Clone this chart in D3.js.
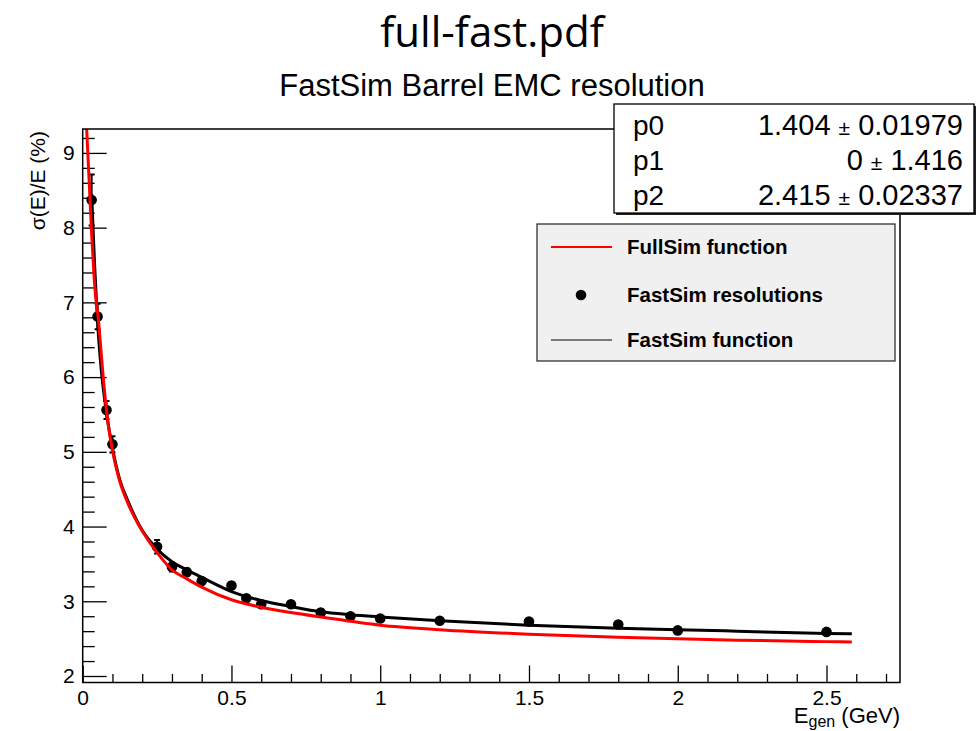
<!DOCTYPE html>
<html>
<head>
<meta charset="utf-8">
<script src="https://cdn.jsdelivr.net/npm/d3@7"></script>
<style>
  body { margin: 0; background: #fff; }
  text { font-family: "Liberation Sans", Arial, sans-serif; }
</style>
</head>
<body>
<svg id="chart" width="978" height="731"></svg>
<script>
// FastSim resolution points
const energies = [0.03, 0.05, 0.08, 0.1, 0.25, 0.3, 0.35, 0.4, 0.5, 0.55, 0.6, 0.7, 0.8, 0.9, 1.0, 1.2, 1.5, 1.8, 2.0, 2.5];
const resolutions = [8.37, 6.81, 5.56, 5.10, 3.73, 3.46, 3.39, 3.27, 3.21, 3.04, 2.96, 2.96, 2.85, 2.80, 2.77, 2.74, 2.73, 2.69, 2.61, 2.59];
const resErrors = [0.34, 0.17, 0.12, 0.11, 0.09, 0.06, 0.05, 0.04, 0.04, 0.04, 0.03, 0.03, 0.03, 0.03, 0.03, 0.03, 0.03, 0.03, 0.03, 0.03];

// curves
const fullE = [0.013, 0.0303, 0.0414, 0.0525, 0.069, 0.08, 0.1, 0.114, 0.125, 0.15, 0.18, 0.2, 0.25, 0.3, 0.35, 0.4, 0.5, 0.6, 0.7, 0.8, 1.0, 1.2, 1.5, 1.8, 2.0, 2.2, 2.5, 2.585];
const fullV = [9.35, 7.90, 7.17, 6.78, 6.0, 5.55, 5.02, 4.76, 4.60, 4.33, 4.08, 3.94, 3.65, 3.42, 3.30, 3.19, 3.02, 2.92, 2.85, 2.79, 2.68, 2.62, 2.56, 2.52, 2.50, 2.48, 2.46, 2.455];
const fastE = [0.03, 0.04, 0.05, 0.06, 0.08, 0.1, 0.125, 0.15, 0.2, 0.25, 0.3, 0.35, 0.4, 0.5, 0.6, 0.7, 0.8, 0.9, 1.0, 1.2, 1.5, 1.8, 2.0, 2.2, 2.5, 2.585];
const fastV = [8.45, 7.50, 6.73, 6.20, 5.52, 5.05, 4.62, 4.36, 3.95, 3.70, 3.53, 3.42, 3.32, 3.13, 3.01, 2.93, 2.86, 2.82, 2.79, 2.74, 2.68, 2.64, 2.62, 2.60, 2.57, 2.565];

const xMajor = [0, 0.5, 1, 1.5, 2, 2.5];
const yMajor = [2, 3, 4, 5, 6, 7, 8, 9];

const fitNames = ["p0", "p1", "p2"];
const fitValues = ["1.404", "0", "2.415"];
const fitErrors = ["0.01979", "1.416", "0.02337"];

const legendLabels = ["FullSim function", "FastSim resolutions", "FastSim function"];

const svg = d3.select("#chart");
const frame = { left: 82.7, right: 900, top: 129, bottom: 682.5 };

const x = d3.scaleLinear().domain([0, 2.747]).range([frame.left, frame.right]);
const y = d3.scaleLinear().domain([1.913, 9.32]).range([frame.bottom, frame.top]);

svg.append("rect").attr("width", 978).attr("height", 731).attr("fill", "#fff");

// titles
svg.append("text").attr("x", 492).attr("y", 47).attr("text-anchor", "middle")
  .style("font-family", "'Open Sans', sans-serif").style("font-size", "42px")
  .text("full-fast.pdf");
svg.append("text").attr("x", 492).attr("y", 96).attr("text-anchor", "middle")
  .style("font-size", "31px").text("FastSim Barrel EMC resolution");

// minor ticks
const xMinor = d3.range(0, 28).map(i => i / 10).filter(v => !xMajor.some(m => Math.abs(m - v) < 1e-6));
const yMinor = d3.range(10, 47).map(i => i / 5).filter(v => v >= 1.913 && !yMajor.some(m => Math.abs(m - v) < 1e-6));

svg.append("g").attr("transform", `translate(0,${frame.bottom})`)
  .call(d3.axisBottom(x).tickValues(xMajor).tickSizeInner(-17).tickSizeOuter(0).tickPadding(8)
    .tickFormat(d => d3.format("")(d)));
svg.append("g").attr("transform", `translate(0,${frame.bottom})`)
  .call(d3.axisBottom(x).tickValues(xMinor).tickSizeInner(-8.5).tickSizeOuter(0).tickFormat(""));

svg.append("g").attr("transform", `translate(${frame.left},0)`)
  .call(d3.axisLeft(y).tickValues(yMajor).tickSizeInner(-24).tickSizeOuter(0).tickPadding(8));
svg.append("g").attr("transform", `translate(${frame.left},0)`)
  .call(d3.axisLeft(y).tickValues(yMinor).tickSizeInner(-12).tickSizeOuter(0).tickFormat(""));

svg.selectAll(".domain").remove();
svg.selectAll(".tick line").attr("stroke", "#000").attr("stroke-width", 1.3);
svg.selectAll(".tick text").style("font-size", "21px").attr("fill", "#000")
  .style("font-family", "'Liberation Sans', Arial, sans-serif");

// axis titles
const xt = svg.append("text").attr("x", frame.right).attr("y", 723).attr("text-anchor", "end")
  .style("font-size", "22px");
xt.append("tspan").text("E");
xt.append("tspan").attr("dy", 4).style("font-size", "16px").text("gen");
xt.append("tspan").attr("dy", -4).text(" (GeV)");

svg.append("text").attr("transform", `translate(45,131) rotate(-90)`).attr("text-anchor", "end")
  .style("font-size", "21px").text("σ(E)/E (%)");

// plot contents
svg.append("clipPath").attr("id", "clip").append("rect")
  .attr("x", frame.left).attr("y", frame.top)
  .attr("width", frame.right - frame.left).attr("height", frame.bottom - frame.top);

const plot = svg.append("g").attr("clip-path", "url(#clip)");

const line = d3.line().x(d => x(d[0])).y(d => y(d[1])).curve(d3.curveMonotoneX);

const points = energies.map((e, i) => ({ e, v: resolutions[i], err: resErrors[i] }));

const bars = plot.append("g").attr("stroke", "#000").attr("stroke-width", 2);
bars.selectAll(".err").data(points).join("line")
  .attr("x1", d => x(d.e)).attr("x2", d => x(d.e))
  .attr("y1", d => y(d.v - d.err)).attr("y2", d => y(d.v + d.err));
bars.selectAll(".capTop").data(points).join("line")
  .attr("x1", d => x(d.e) - 3).attr("x2", d => x(d.e) + 3)
  .attr("y1", d => y(d.v + d.err)).attr("y2", d => y(d.v + d.err));
bars.selectAll(".capBot").data(points).join("line")
  .attr("x1", d => x(d.e) - 3).attr("x2", d => x(d.e) + 3)
  .attr("y1", d => y(d.v - d.err)).attr("y2", d => y(d.v - d.err));

plot.append("g").selectAll("circle").data(points).join("circle")
  .attr("cx", d => x(d.e)).attr("cy", d => y(d.v)).attr("r", 5.3).attr("fill", "#000");

plot.append("path").datum(fastE.map((e, i) => [e, fastV[i]]))
  .attr("d", line).attr("fill", "none").attr("stroke", "#000").attr("stroke-width", 3);

plot.append("path").datum(fullE.map((e, i) => [e, fullV[i]]))
  .attr("d", line).attr("fill", "none").attr("stroke", "#ff0000").attr("stroke-width", 3);

// frame
svg.append("rect").attr("x", frame.left).attr("y", frame.top)
  .attr("width", frame.right - frame.left).attr("height", frame.bottom - frame.top)
  .attr("fill", "none").attr("stroke", "#000").attr("stroke-width", 1.5);

// stats box
svg.append("rect").attr("x", 616).attr("y", 106).attr("width", 360).attr("height", 109).attr("fill", "#222");
svg.append("rect").attr("x", 614).attr("y", 104).attr("width", 360).attr("height", 109)
  .attr("fill", "#fff").attr("stroke", "#000").attr("stroke-width", 1.3);

const statRows = svg.append("g").selectAll("g").data(fitNames).join("g")
  .attr("transform", (d, i) => `translate(0,${135 + i * 35})`);
statRows.append("text").attr("x", 633).style("font-size", "28px").text(d => d);
const valText = statRows.append("text").attr("x", 963).attr("text-anchor", "end").style("font-size", "29px");
valText.append("tspan").text((d, i) => fitValues[i] + " ");
valText.append("tspan").style("font-size", "21px").text("±");
valText.append("tspan").text((d, i) => " " + fitErrors[i]);

// legend
const lg = svg.append("g");
lg.append("rect").attr("x", 537).attr("y", 224).attr("width", 358).attr("height", 137)
  .attr("fill", "#f0f0f0").attr("stroke", "#222").attr("stroke-width", 1.2);
const rowY = [247, 295, 340];
lg.append("line").attr("x1", 551).attr("x2", 612).attr("y1", rowY[0]).attr("y2", rowY[0])
  .attr("stroke", "#ff0000").attr("stroke-width", 2.2);
lg.append("circle").attr("cx", 581).attr("cy", rowY[1]).attr("r", 5.3).attr("fill", "#000");
lg.append("line").attr("x1", 551).attr("x2", 612).attr("y1", rowY[2]).attr("y2", rowY[2])
  .attr("stroke", "#000").attr("stroke-width", 1.1);
lg.selectAll("text.lab").data(legendLabels).join("text")
  .attr("x", 627).attr("y", (d, i) => rowY[i] + 7)
  .style("font-size", "20.5px").style("font-weight", "bold").text(d => d);
</script>
</body>
</html>
